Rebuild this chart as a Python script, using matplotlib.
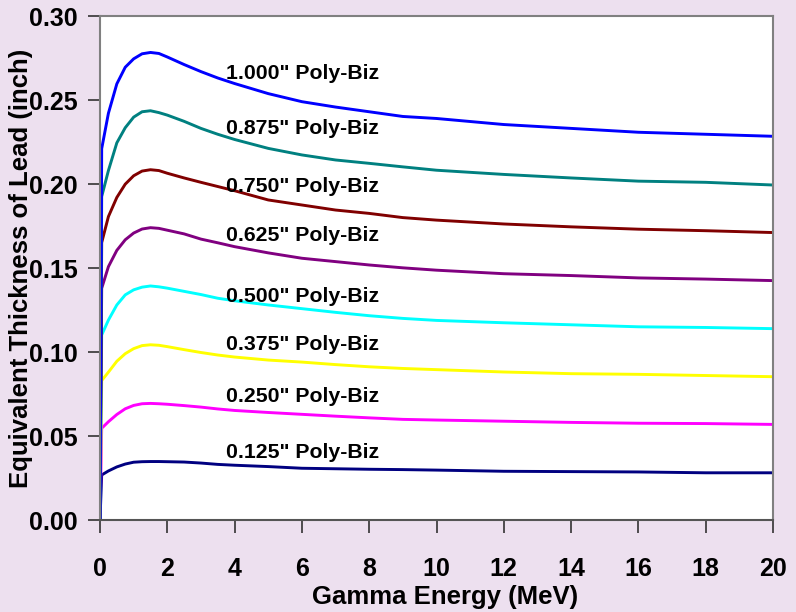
import numpy as np
import matplotlib
matplotlib.use("Agg")
import matplotlib.pyplot as plt

plt.rcParams['font.family'] = ['Liberation Sans', 'DejaVu Sans']
plt.rcParams['font.weight'] = 'bold'

# Gamma energy (MeV)
energy = [0, 0.05, 0.25, 0.5, 0.75, 1.0, 1.25, 1.5, 1.75, 2.0, 2.5, 3.0, 3.5, 4.0,
          5, 6, 7, 8, 9, 10, 12, 14, 16, 18, 20]

# equivalent lead thickness (inch) for each poly-biz thickness
pb_1000 = [0, 0.2210, 0.2421, 0.2596, 0.2695, 0.2745, 0.2775, 0.2783, 0.2777, 0.2756,
           0.2711, 0.2669, 0.2631, 0.2598, 0.2538, 0.2490, 0.2458, 0.2430, 0.2402,
           0.2390, 0.2354, 0.2331, 0.2308, 0.2296, 0.2284]
pb_0875 = [0, 0.1925, 0.2080, 0.2245, 0.2335, 0.2398, 0.2430, 0.2436, 0.2425, 0.2410,
           0.2373, 0.2331, 0.2296, 0.2265, 0.2212, 0.2173, 0.2143, 0.2123, 0.2102,
           0.2082, 0.2057, 0.2036, 0.2017, 0.2010, 0.1994]
pb_0750 = [0, 0.1651, 0.1806, 0.1920, 0.1999, 0.2049, 0.2077, 0.2085, 0.2080, 0.2064,
           0.2036, 0.2010, 0.1985, 0.1960, 0.1905, 0.1875, 0.1845, 0.1825, 0.1800,
           0.1785, 0.1762, 0.1745, 0.1731, 0.1722, 0.1711]
pb_0625 = [0, 0.1379, 0.1508, 0.1605, 0.1668, 0.1708, 0.1732, 0.1740, 0.1736, 0.1725,
           0.1703, 0.1672, 0.1650, 0.1627, 0.1590, 0.1558, 0.1538, 0.1518, 0.1501,
           0.1487, 0.1466, 0.1455, 0.1441, 0.1434, 0.1425]
pb_0500 = [0, 0.1101, 0.1190, 0.1280, 0.1340, 0.1370, 0.1386, 0.1393, 0.1388, 0.1380,
           0.1361, 0.1342, 0.1320, 0.1305, 0.1280, 0.1258, 0.1236, 0.1216, 0.1200,
           0.1188, 0.1174, 0.1162, 0.1150, 0.1146, 0.1139]
pb_0375 = [0, 0.0830, 0.0880, 0.0945, 0.0990, 0.1020, 0.1038, 0.1043, 0.1040, 0.1032,
           0.1014, 0.0997, 0.0982, 0.0970, 0.0952, 0.0940, 0.0925, 0.0912, 0.0902,
           0.0895, 0.0881, 0.0871, 0.0867, 0.0860, 0.0853]
pb_0250 = [0, 0.0546, 0.0585, 0.0628, 0.0662, 0.0682, 0.0692, 0.0694, 0.0692, 0.0689,
           0.0681, 0.0672, 0.0661, 0.0652, 0.0640, 0.0629, 0.0618, 0.0608, 0.0599,
           0.0595, 0.0588, 0.0581, 0.0576, 0.0574, 0.0569]
pb_0125 = [0, 0.0268, 0.0292, 0.0316, 0.0333, 0.0344, 0.0347, 0.0348, 0.0348, 0.0347,
           0.0345, 0.0339, 0.0331, 0.0326, 0.0318, 0.0308, 0.0305, 0.0302, 0.0300,
           0.0297, 0.0290, 0.0288, 0.0286, 0.0281, 0.0281]

labels = ['0.125" Poly-Biz', '0.250" Poly-Biz', '0.375" Poly-Biz', '0.500" Poly-Biz',
          '0.625" Poly-Biz', '0.750" Poly-Biz', '0.875" Poly-Biz', '1.000" Poly-Biz']
label_y = [0.0399, 0.0738, 0.1042, 0.1333, 0.1696, 0.1988, 0.2333, 0.2660]
series = [pb_0125, pb_0250, pb_0375, pb_0500, pb_0625, pb_0750, pb_0875, pb_1000]
colors = ['#000080', '#FF00FF', '#FFFF00', '#00FFFF', '#800080', '#800000', '#008080', '#0000FF']

fig = plt.figure(figsize=(7.96, 6.12), dpi=100)
fig.patch.set_facecolor('#ede0ef')
ax = fig.add_axes([100/796, 1 - 520/612, 673/796, 504/612])
ax.set_facecolor('white')

for vals, c in zip(series, colors):
    ax.plot(energy, vals, color=c, linewidth=2.1, solid_joinstyle='round')

for txt, y in zip(labels, label_y):
    ax.text(3.74, y, txt, fontsize=15.3, fontweight='bold', va='center', ha='left')

ax.set_xlim(0, 20)
ax.set_ylim(0, 0.30)
ax.set_xticks(np.arange(0, 21, 2))
ax.set_yticks(np.arange(0, 0.31, 0.05))
ax.set_yticklabels([f"{v:.2f}" for v in np.arange(0, 0.31, 0.05)])
ax.tick_params(axis='both', direction='out', length=9, width=1.2, color='#333333',
               labelsize=18)
ax.tick_params(axis='x', pad=18)
ax.tick_params(axis='y', pad=7)
for s in ax.spines.values():
    s.set_color('#808080')
    s.set_linewidth(1.5)
ax.spines['bottom'].set_color('#555555')

ax.set_xlabel("Gamma Energy (MeV)", fontsize=18.5, fontweight='bold')
ax.set_ylabel("Equivalent Thickness of Lead (inch)", fontsize=18.5, fontweight='bold')
ax.xaxis.set_label_coords(0.513, -0.128)
ax.yaxis.set_label_coords(-0.100, 0.5)

fig.savefig("out.png", dpi=100, facecolor=fig.get_facecolor())
